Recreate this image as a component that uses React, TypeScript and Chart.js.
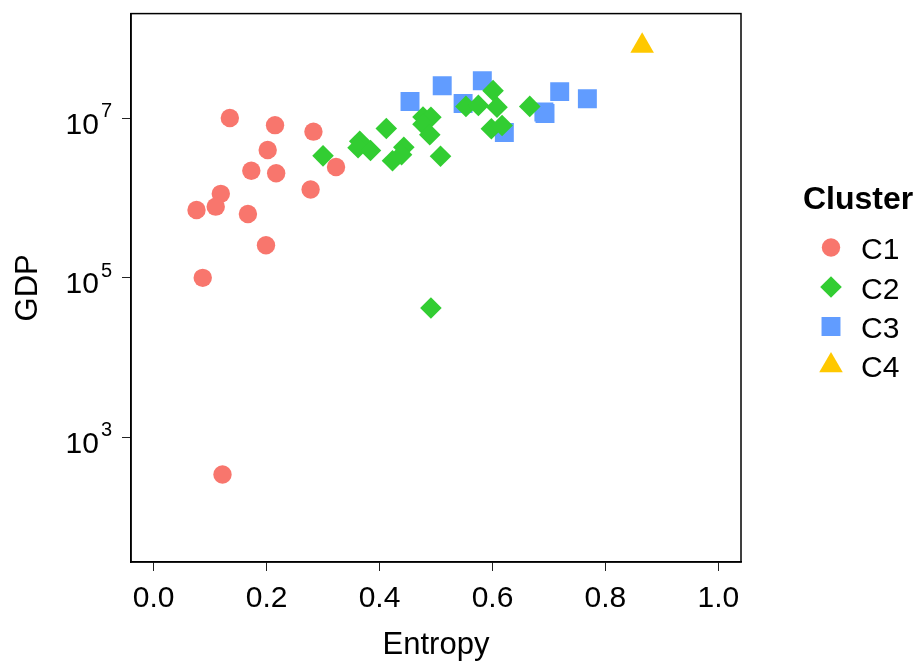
import React, { useEffect, useRef } from 'react';
import { Chart, registerables } from 'chart.js';
import { drawPoint } from 'chart.js/helpers';

Chart.register(...registerables);

// ---- data ----
const c1Entropy = [0.135, 0.215, 0.283, 0.202, 0.173, 0.217, 0.323, 0.278, 0.119, 0.110, 0.076, 0.167, 0.199, 0.087, 0.122];
const c1Gdp = [1.01e7, 8.2e6, 6.8e6, 4.0e6, 2.2e6, 2.05e6, 2.45e6, 1.28e6, 1.13e6, 7.8e5, 7.1e5, 6.3e5, 2.56e5, 1.0e5, 342];

const c2Entropy = [0.300, 0.365, 0.362, 0.384, 0.412, 0.443, 0.423, 0.439, 0.477, 0.491, 0.477, 0.489, 0.508, 0.491, 0.553, 0.575, 0.601, 0.608, 0.598, 0.617, 0.666];
const c2Gdp = [3.38e6, 5.16e6, 4.28e6, 3.95e6, 7.46e6, 4.34e6, 2.94e6, 3.5e6, 1.04e7, 1.03e7, 8.41e6, 6.22e6, 3.35e6, 4.18e4, 1.41e7, 1.45e7, 2.22e7, 1.38e7, 7.39e6, 8.11e6, 1.41e7];

const c3Entropy = [0.454, 0.511, 0.548, 0.582, 0.621, 0.691, 0.693, 0.719, 0.768];
const c3Gdp = [1.62e7, 2.56e7, 1.53e7, 2.96e7, 6.63e6, 1.2e7, 1.15e7, 2.16e7, 1.76e7];

const c4Entropy = [0.865];
const c4Gdp = [8.08e7];

const clusterNames = ['C1', 'C2', 'C3', 'C4'];
const xTickValues = [0, 0.2, 0.4, 0.6, 0.8, 1.0];
const yTickValues = [1e3, 1e5, 1e7];
const xTitle = 'Entropy';
const yTitle = 'GDP';
const legendTitle = 'Cluster';

// ---- styles ----
const colors = ['#F8766D', '#32CD32', '#619CFF', '#FFC800'];
const shapes = ['circle', 'rectRot', 'rect', 'triangle'];
const radii = [9.2, 10.8, 13.4, 13.6];
const FONT = "'Liberation Sans', Arial, Helvetica, sans-serif";

const toPoints = (xs: number[], ys: number[]) => xs.map((x, i) => ({ x, y: ys[i] }));

export default function App() {
  const ref = useRef<HTMLCanvasElement | null>(null);

  useEffect(() => {
    if (!ref.current) return;
    const seriesX = [c1Entropy, c2Entropy, c3Entropy, c4Entropy];
    const seriesY = [c1Gdp, c2Gdp, c3Gdp, c4Gdp];
    const drawOrder = [2, 1, 3, 0];

    const datasets = clusterNames.map((name, i) => ({
      label: name,
      data: toPoints(seriesX[i], seriesY[i]),
      pointStyle: shapes[i] as any,
      pointRadius: radii[i],
      pointHoverRadius: radii[i],
      pointBackgroundColor: colors[i],
      pointBorderWidth: 0,
      pointBorderColor: colors[i],
      backgroundColor: colors[i],
      borderColor: colors[i],
      showLine: false,
      order: drawOrder[i],
    }));

    const overlay = {
      id: 'overlay',
      afterDraw(chart: any) {
        const { ctx, chartArea } = chart;
        const yScale = chart.scales.y;
        ctx.save();
        ctx.strokeStyle = '#000';
        ctx.lineWidth = 1.5;
        ctx.strokeRect(chartArea.left, chartArea.top, chartArea.right - chartArea.left, chartArea.bottom - chartArea.top);

        ctx.fillStyle = '#000';
        ctx.textBaseline = 'alphabetic';
        yTickValues.forEach((v) => {
          const py = yScale.getPixelForValue(v);
          const exp = String(Math.round(Math.log10(v)));
          ctx.font = `20px ${FONT}`;
          const ew = ctx.measureText(exp).width;
          const rightEdge = 112;
          ctx.textAlign = 'left';
          ctx.fillText(exp, rightEdge - ew, py - 1);
          ctx.font = `30px ${FONT}`;
          ctx.textAlign = 'right';
          ctx.fillText('10', rightEdge - ew - 2, py + 15.5);
        });

        ctx.textAlign = 'left';
        ctx.font = `bold 32px ${FONT}`;
        ctx.fillText(legendTitle, 803, 209);
        const rowY = [248.5, 288, 327.5, 366.5];
        clusterNames.forEach((name, i) => {
          const cy = rowY[i];
          ctx.fillStyle = colors[i];
          ctx.strokeStyle = colors[i];
          drawPoint(ctx, { pointStyle: shapes[i] as any, radius: radii[i], rotation: 0, borderWidth: 0 }, 831, cy - 1);
          ctx.fillStyle = '#000';
          ctx.font = `30px ${FONT}`;
          ctx.fillText(name, 861, cy + 10.7);
        });
        ctx.restore();
      },
    };

    const chart = new Chart(ref.current, {
      type: 'scatter',
      data: { datasets },
      options: {
        animation: false,
        responsive: false,
        maintainAspectRatio: false,
        layout: { padding: { left: 0, right: 179, top: 12, bottom: 0 } },
        plugins: { legend: { display: false }, tooltip: { enabled: false } },
        scales: {
          x: {
            type: 'linear',
            min: -0.04,
            max: 1.04,
            afterBuildTicks: (scale: any) => {
              scale.ticks = xTickValues.map((v) => ({ value: v }));
            },
            afterFit: (scale: any) => {
              scale.height = 104;
              scale.paddingLeft = 0;
              scale.paddingRight = 0;
            },
            grid: { display: true, drawOnChartArea: false, drawTicks: true, tickLength: 9, color: '#222', lineWidth: 1 },
            border: { display: true, color: '#000', width: 1.5 },
            ticks: {
              color: '#000',
              font: { family: FONT, size: 30 },
              padding: 10,
              autoSkip: false,
              maxRotation: 0,
              callback: (v: any) => Number(v).toFixed(1),
            },
            title: {
              display: true,
              text: xTitle,
              color: '#000',
              font: { family: FONT, size: 31 },
              padding: { top: 0, bottom: 2 },
            },
          },
          y: {
            type: 'logarithmic',
            min: Math.pow(10, 1.4375),
            max: Math.pow(10, 8.3125),
            afterBuildTicks: (scale: any) => {
              scale.ticks = yTickValues.map((v) => ({ value: v }));
            },
            afterFit: (scale: any) => {
              scale.width = 131;
              scale.paddingTop = 0;
              scale.paddingBottom = 0;
            },
            grid: { display: true, drawOnChartArea: false, drawTicks: true, tickLength: 9, color: '#222', lineWidth: 1 },
            border: { display: true, color: '#000', width: 1.5 },
            ticks: {
              color: '#000',
              autoSkip: false,
              font: { family: FONT, size: 30 },
              callback: () => '',
            },
            title: {
              display: true,
              text: yTitle,
              color: '#000',
              font: { family: FONT, size: 31 },
              padding: { top: 10, bottom: 0 },
            },
          },
        },
      },
      plugins: [overlay],
    });
    return () => chart.destroy();
  }, []);

  return (
    <div style={{ position: 'absolute', left: 0, top: 0, width: 920, height: 666, background: '#fff' }}>
      <canvas ref={ref} width={920} height={666} style={{ display: 'block', width: 920, height: 666 }} />
    </div>
  );
}
